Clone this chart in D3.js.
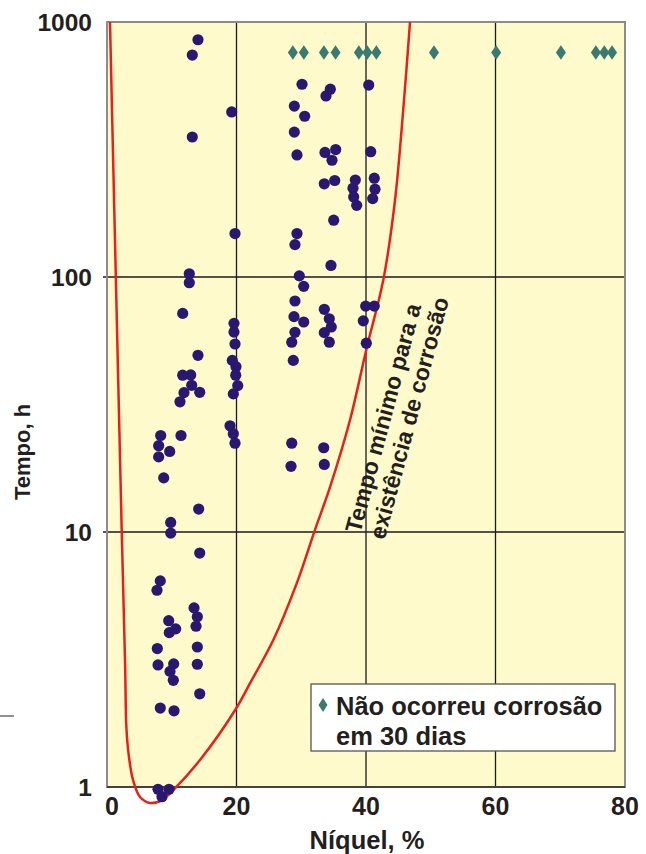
<!DOCTYPE html>
<html>
<head>
<meta charset="utf-8">
<script src="https://cdn.jsdelivr.net/npm/d3@7"></script>
<style>
  html, body { margin: 0; padding: 0; background: #ffffff; }
  svg { display: block; }
  text { font-family: "Liberation Sans", Arial, Helvetica, sans-serif; font-weight: bold; fill: #231f20; }
</style>
</head>
<body>
<svg id="chart" width="646" height="854"></svg>
<script>
// ---------- data ----------
const xTicks = [0, 20, 40, 60, 80];
const yTicks = [1, 10, 100, 1000];
const yTickLabels = ["1", "10", "100", "1000"];

// corrosion observed (Ni %, hours)
const corrNi = [
  14.05, 13.17, 19.26, 13.17, 19.77, 30.12, 34.49, 33.82, 40.42, 28.93,
  30.53, 28.93, 29.34, 33.67, 35.32, 34.75, 40.73, 33.56, 35.17, 38.35,
  37.99, 38.10, 38.56, 41.28, 41.39, 41.03, 35.01, 29.34, 29.03, 34.59,
  12.71, 12.71, 11.69, 19.61, 19.61, 19.77, 14.05, 19.35, 19.92, 19.88,
  20.19, 19.51, 11.69, 12.93, 13.08, 11.89, 14.32, 11.27, 19.00, 19.51,
  19.77, 8.29, 7.98, 9.68, 7.98, 11.43, 8.76, 14.16, 9.84, 9.84,
  29.70, 30.38, 29.03, 28.88, 30.38, 29.03, 28.53, 28.77, 33.56, 34.33,
  34.64, 33.56, 34.33, 39.95, 41.28, 39.58, 40.05, 28.53, 28.42, 33.47,
  33.56, 14.32, 8.23, 7.72, 13.44, 13.95, 13.75, 9.53, 10.61, 9.62,
  7.77, 13.95, 7.88, 10.30, 9.73, 10.24, 13.95, 14.32, 8.23, 10.35,
  7.88, 9.58, 8.49
];
const corrHours = [
  852, 742, 444, 354, 148, 570, 545, 513, 566, 468,
  427, 370, 301, 308, 316, 287, 310, 232, 239, 240,
  223, 206, 191, 244, 221, 203, 167, 148, 134, 111,
  103, 95, 72, 65.8, 60.8, 54.6, 49.3, 47.1, 44.5, 41.2,
  37.5, 34.8, 41.2, 41.3, 37.6, 35.2, 35.3, 32.4, 26.1, 24.3,
  22.3, 23.9, 21.8, 20.7, 19.7, 23.9, 16.3, 12.3, 10.9, 9.9,
  101, 91.9, 80.5, 69.9, 66.6, 60.7, 55.5, 47.1, 74.7, 68.6,
  63.7, 60.5, 55.5, 76.9, 76.9, 67.3, 55.0, 22.3, 18.1, 21.4,
  18.4, 8.27, 6.43, 5.91, 5.04, 4.65, 4.27, 4.49, 4.17, 4.03,
  3.49, 3.54, 3.01, 3.04, 2.84, 2.62, 3.03, 2.32, 2.04, 1.99,
  0.98, 0.98, 0.916
];

// no corrosion in 30 days (Ni %, hours)
const noCorrNi = [28.7, 30.4, 33.5, 35.3, 38.9, 40.2, 41.6, 50.5, 60.1, 70.1, 75.5, 76.8, 78.0];
const noCorrHours = [760, 760, 760, 760, 760, 760, 760, 760, 760, 760, 760, 760, 760];

// minimum time for corrosion curve (Ni %, hours)
const curveNi = [0.46, 1.34, 2.27, 2.80, 3.00, 3.38, 4.02, 5.10, 6.64, 8.49, 10.24, 14.36, 19.77, 22.08, 25.68, 29.30, 32.12, 34.44, 37.53, 40.11, 42.67, 44.48, 45.87, 46.8];
const curveHours = [1000, 106.5, 10.2, 3.0, 1.7, 1.32, 1.065, 0.914, 0.866, 0.889, 0.973, 1.276, 2.00, 2.55, 3.77, 6.29, 10.2, 15.0, 27.5, 52.7, 97.3, 200, 494, 1000];

const curveLabel = ["Tempo mínimo para a", "existência de corrosão"];
const legendLabel = ["Não ocorreu corrosão", "em 30 dias"];
const xTitle = "Níquel, %";
const yTitle = "Tempo, h";

// ---------- drawing ----------
const svg = d3.select("#chart");
const L = 107, R = 625, T = 22, B = 787;
const x = d3.scaleLinear().domain([0, 80]).range([L, R]);
const y = d3.scaleLog().domain([1, 1000]).range([B, T]);

// stray mark at left
svg.append("line").attr("x1", 0).attr("x2", 14).attr("y1", 716).attr("y2", 716)
  .attr("stroke", "#444").attr("stroke-width", 1.2);

// plot background
svg.append("rect").attr("x", L).attr("y", T).attr("width", R - L).attr("height", B - T)
  .attr("fill", "#FFFACB");

// grid lines
svg.append("g").selectAll("line").data(xTicks.slice(1, -1)).join("line")
  .attr("x1", d => x(d)).attr("x2", d => x(d)).attr("y1", T).attr("y2", B)
  .attr("stroke", "#1a1a1a").attr("stroke-width", 1.3);
svg.append("g").selectAll("line").data(yTicks.slice(1, -1)).join("line")
  .attr("x1", L - 4).attr("x2", R).attr("y1", d => y(d)).attr("y2", d => y(d))
  .attr("stroke", "#1a1a1a").attr("stroke-width", 1.3);

// frame
svg.append("rect").attr("x", L).attr("y", T).attr("width", R - L).attr("height", B - T)
  .attr("fill", "none").attr("stroke", "#8c8c8c").attr("stroke-width", 2);
svg.append("line").attr("x1", L).attr("x2", R).attr("y1", B).attr("y2", B)
  .attr("stroke", "#2a2a2a").attr("stroke-width", 1.5);

// curve
const curvePts = curveNi.map((v, i) => [v, curveHours[i]]);
svg.append("path").datum(curvePts)
  .attr("d", d3.line().x(d => x(d[0])).y(d => y(d[1])).curve(d3.curveCatmullRom.alpha(0.5)))
  .attr("fill", "none").attr("stroke", "#E3221B").attr("stroke-width", 2.5);

// corrosion points
svg.append("g").selectAll("circle").data(corrNi.map((v, i) => [v, corrHours[i]])).join("circle")
  .attr("cx", d => x(d[0])).attr("cy", d => y(d[1])).attr("r", 5.6)
  .attr("fill", "#2A1870");

// diamonds
const diamond = (cx, cy, w, h) => `M${cx},${cy - h / 2}L${cx + w / 2},${cy}L${cx},${cy + h / 2}L${cx - w / 2},${cy}Z`;
svg.append("g").selectAll("path").data(noCorrNi.map((v, i) => [v, noCorrHours[i]])).join("path")
  .attr("d", d => diamond(x(d[0]), y(d[1]), 10, 14.5))
  .attr("fill", "#3B7A70");

// curve label
const lbl = svg.append("g");
[[383, 418], [409, 418]].forEach((p, i) => {
  lbl.append("text").attr("transform", `translate(${p[0]},${p[1]}) rotate(-75)`)
    .attr("text-anchor", "middle").attr("dy", "0.35em")
    .attr("font-size", 23).text(curveLabel[i]);
});

// legend
svg.append("rect").attr("x", 311).attr("y", 684).attr("width", 304).attr("height", 67)
  .attr("fill", "#ffffff").attr("stroke", "#555").attr("stroke-width", 1.3);
svg.append("path").attr("d", diamond(323, 705, 9, 14)).attr("fill", "#3B7A70");
svg.append("text").attr("x", 336).attr("y", 715).attr("font-size", 25.5).text(legendLabel[0]);
svg.append("text").attr("x", 336).attr("y", 745).attr("font-size", 25.5).text(legendLabel[1]);

// tick labels
svg.append("g").selectAll("text").data(yTicks).join("text")
  .attr("x", 92).attr("y", d => y(d)).attr("dy", "0.36em")
  .attr("text-anchor", "end").attr("font-size", 24.5)
  .text((d, i) => yTickLabels[i]);
svg.append("g").selectAll("text").data(xTicks).join("text")
  .attr("x", d => x(d) + (d === 0 ? 5 : 0)).attr("y", 815)
  .attr("text-anchor", "middle").attr("font-size", 25)
  .text(d => d);

// axis titles
svg.append("text").attr("x", 367).attr("y", 849).attr("text-anchor", "middle")
  .attr("font-size", 25.5).text(xTitle);
svg.append("text").attr("transform", "translate(30,452) rotate(-90)")
  .attr("text-anchor", "middle").attr("font-size", 22).text(yTitle);
</script>
</body>
</html>
